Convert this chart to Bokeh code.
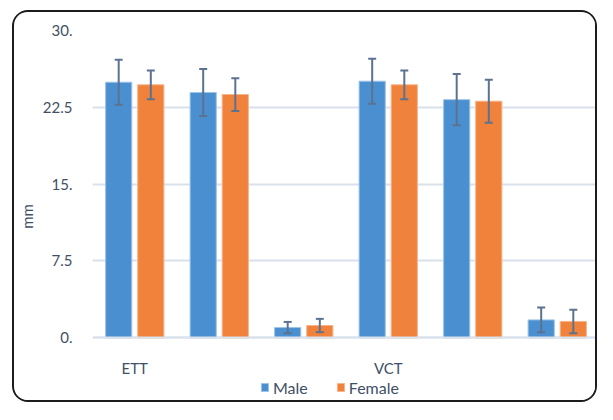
from bokeh.plotting import figure
from bokeh.models import (ColumnDataSource, Whisker, TeeHead, Range1d, FixedTicker,
                          Legend, LegendItem)
from bokeh.embed import file_html
from bokeh.resources import INLINE

# ---- data ----
group_labels = ["ETT", "", "", "VCT", "", ""]
male = [24.95, 23.95, 1.0, 25.05, 23.25, 1.75]
male_err = [2.2, 2.3, 0.55, 2.2, 2.5, 1.2]
female = [24.7, 23.75, 1.2, 24.7, 23.1, 1.6]
female_err = [1.4, 1.6, 0.65, 1.4, 2.1, 1.15]
y_ticks = [0, 7.5, 15, 22.5, 30]
y_tick_labels = ["0.", "7.5", "15.", "22.5", "30."]
series_names = ["Male", "Female"]

BLUE = "#4A90D0"
ORANGE = "#F0823C"
ERR = "#5B7290"
TXT = "#3F4F66"
GRID = "#D9E2EC"
FONT = "Lato"

# layout (pixels inside the figure canvas)
W, H = 585, 392
FRAME_TOP, ZERO_PX, FRAME_BOTTOM = 18, 322, 386
y_max = y_ticks[-1]
y_min = -y_max * (FRAME_BOTTOM - ZERO_PX) / (ZERO_PX - FRAME_TOP)

xs = list(range(len(group_labels)))
off = 0.19
bw = 0.31

src_m = ColumnDataSource(dict(
    x=[i - off for i in xs], top=male,
    upper=[v + e for v, e in zip(male, male_err)],
    lower=[v - e for v, e in zip(male, male_err)]))
src_f = ColumnDataSource(dict(
    x=[i + off for i in xs], top=female,
    upper=[v + e for v, e in zip(female, female_err)],
    lower=[v - e for v, e in zip(female, female_err)]))

p = figure(width=W, height=H, output_backend="svg", toolbar_location=None,
           x_range=Range1d(-0.5, len(group_labels) - 0.5), y_range=Range1d(y_min, y_max),
           min_border_left=73, min_border_right=0, min_border_top=FRAME_TOP,
           min_border_bottom=(H - 4) - FRAME_BOTTOM)
p.styles = {"border": "2px solid #1c1c1c", "border-radius": "16px",
            "margin-left": "12px", "margin-top": "10px", "overflow": "hidden"}
p.outline_line_color = None
p.background_fill_color = "white"
p.border_fill_color = "white"

rm = p.vbar(x="x", top="top", bottom=0, width=bw, source=src_m,
            fill_color=BLUE, line_color="#9CC3E8", line_width=1)
rf = p.vbar(x="x", top="top", bottom=0, width=bw, source=src_f,
            fill_color=ORANGE, line_color="#F7B48A", line_width=1)

for s in (src_m, src_f):
    w = Whisker(base="x", upper="upper", lower="lower", source=s, level="overlay",
                line_color=ERR, line_width=2,
                upper_head=TeeHead(size=8, line_color=ERR, line_width=2),
                lower_head=TeeHead(size=8, line_color=ERR, line_width=2))
    p.add_layout(w)

# axes
tick_pos = [i for i, l in enumerate(group_labels) if l]
p.xaxis.fixed_location = 0
p.xaxis.ticker = FixedTicker(ticks=tick_pos)
p.xaxis.major_label_overrides = {i: group_labels[i] for i in tick_pos}
p.xaxis.major_tick_line_color = None
p.xaxis.minor_tick_line_color = None
p.xaxis.axis_line_color = GRID
p.xaxis.axis_line_width = 2
p.xaxis.major_label_standoff = 15
p.xaxis.major_label_text_font = FONT
p.xaxis.major_label_text_font_size = "15px"
p.xaxis.major_label_text_color = TXT

p.yaxis.ticker = FixedTicker(ticks=y_ticks)
p.yaxis.major_label_overrides = {t: l for t, l in zip(y_ticks, y_tick_labels)}
p.yaxis.major_tick_line_color = None
p.yaxis.minor_tick_line_color = None
p.yaxis.axis_line_color = None
p.yaxis.major_label_standoff = 14
p.yaxis.major_label_text_font = FONT
p.yaxis.major_label_text_font_size = "15px"
p.yaxis.major_label_text_color = TXT
p.yaxis.axis_label = "mm"
p.yaxis.axis_label_text_font = FONT
p.yaxis.axis_label_text_font_style = "normal"
p.yaxis.axis_label_text_font_size = "15px"
p.yaxis.axis_label_text_color = TXT
p.yaxis.axis_label_standoff = 4

p.xgrid.grid_line_color = None
p.ygrid.grid_line_color = GRID
p.ygrid.grid_line_width = 2

legend = Legend(items=[LegendItem(label=series_names[0], renderers=[rm]),
                       LegendItem(label=series_names[1], renderers=[rf])],
                orientation="horizontal", location=(168, 5),
                glyph_width=9, glyph_height=10, label_standoff=4, spacing=28,
                padding=0, margin=0, border_line_color=None,
                background_fill_alpha=0,
                label_text_font=FONT, label_text_font_size="16px",
                label_text_color=TXT, label_height=20)
p.add_layout(legend, "center")

open("out.html", "w").write(file_html(p, INLINE))
